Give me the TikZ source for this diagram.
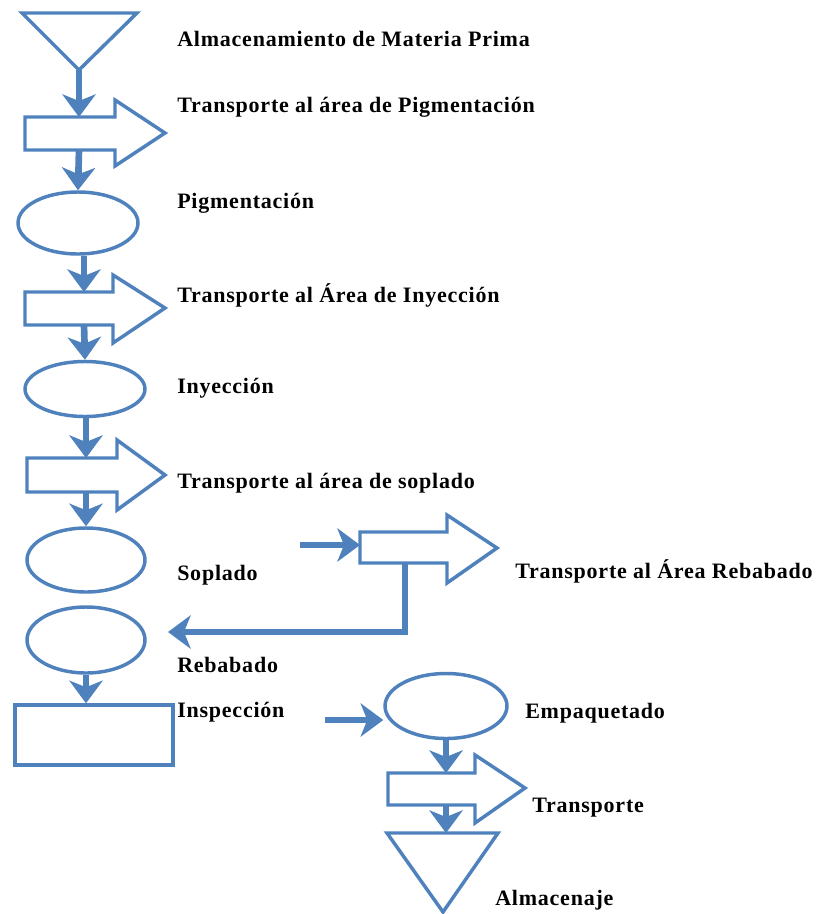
\documentclass[tikz,border=0pt]{standalone}
\usepackage{fontspec}
\setmainfont{Liberation Serif}[LetterSpace=3.5]
\usepackage{tikz}
\usetikzlibrary{shapes.geometric,arrows.meta}
\definecolor{azul}{HTML}{4F81BD}
\tikzstyle{contorno} = [draw=azul, line width=2.6pt, inner sep=0pt]
\tikzstyle{flecha} = [draw=azul, line width=5pt, ->]
\tikzstyle{rotulo} = [anchor=base west, inner sep=0pt, font=\fontsize{16.5}{19}\selectfont\bfseries]

\begin{document}
\begin{tikzpicture}[x=0.75pt,y=-0.75pt,>={Stealth[length=17pt,width=25pt,inset=5pt]}]
      \useasboundingbox (0,0) rectangle (827,914);

      % almacenamiento y transportes de la columna izquierda
      \draw[contorno] (22,13) -- (137,13) -- (79,70) coordinate (alm) -- cycle;
      \draw[contorno] (25,117) -- (115,117) -- (115,100) -- (165,133) -- (115,166) -- (115,150) -- (25,150) -- cycle;
      \coordinate (tp1n) at (79,117);
      \coordinate (tp1s) at (79,150);
      \node[contorno, ellipse, minimum width=90pt, minimum height=46.5pt] (pigm) at (78,223) {};
      \draw[contorno] (25,292) -- (113,292) -- (113,275) -- (165,308) -- (113,343) -- (113,325) -- (25,325) -- cycle;
      \coordinate (tp2n) at (84,292);
      \coordinate (tp2s) at (84,325);
      \node[contorno, ellipse, minimum width=90pt, minimum height=41.25pt] (inye) at (85,389) {};
      \draw[contorno] (27,458) -- (117,458) -- (117,440) -- (165,475) -- (117,510) -- (117,492) -- (27,492) -- cycle;
      \coordinate (tp3n) at (86,458);
      \coordinate (tp3s) at (86,492);
      \node[contorno, ellipse, minimum width=88.5pt, minimum height=48pt] (sopl) at (86,560) {};
      \node[contorno, ellipse, minimum width=88.5pt, minimum height=49.5pt] (reba) at (86,640) {};
      \node[contorno, rectangle, minimum width=118.5pt, minimum height=45pt] (insp) at (94,735) {};

      % transporte al rebabado
      \draw[contorno] (360,532) -- (447,532) -- (447,515) -- (497,548) -- (447,583) -- (447,563) -- (360,563) -- cycle;
      \coordinate (tp4w) at (360,545);
      \coordinate (tp4s) at (405,563);
      \coordinate (ent4) at (300,545);
      \coordinate (sal4) at (168,632);

      % empaquetado, transporte y almacenaje
      \node[contorno, ellipse, minimum width=91.5pt, minimum height=48.75pt] (empq) at (446,706) {};
      \coordinate (ent5) at (325,720);
      \draw[contorno] (388,773) -- (475,773) -- (475,755) -- (525,788) -- (475,823) -- (475,805) -- (388,805) -- cycle;
      \coordinate (tp5n) at (446,773);
      \coordinate (tp5s) at (446,805);
      \draw[contorno] (387,833) -- (498,833) -- (443,912) -- cycle;
      \coordinate (almf) at (446,833);

      % flechas
      \draw[flecha] (alm) -- (tp1n);
      \draw[flecha] (tp1s) -- (pigm.north);
      \draw[flecha] (pigm.south -| tp2n) -- (tp2n);
      \draw[flecha] (tp2s) -- (inye.north);
      \draw[flecha] (inye.south -| tp3n) -- (tp3n);
      \draw[flecha] (tp3s) -- (sopl.north);
      \draw[flecha] (reba.south) -- (reba.south |- insp.north);
      \draw[flecha] (ent4) -- (tp4w);
      \draw[flecha] (tp4s) |- (sal4);
      \draw[flecha] (ent5) -- (ent5 -| empq.west);
      \draw[flecha] (empq.south) -- (tp5n);
      \draw[flecha] (tp5s) -- (almf);

      % rotulos
      \node[rotulo] (r1) at (177,46) {Almacenamiento de Materia Prima};
      \node[rotulo] (r2) at (177,112) {Transporte al área de Pigmentación};
      \node[rotulo] (r3) at (177,208) {Pigmentación};
      \node[rotulo] (r4) at (177,302) {Transporte al Área de Inyección};
      \node[rotulo] (r5) at (177,393) {Inyección};
      \node[rotulo] (r6) at (177,488) {Transporte al área de soplado};
      \node[rotulo] (r7) at (177,580) {Soplado};
      \node[rotulo] (r8) at (515,578) {Transporte al Área Rebabado};
      \node[rotulo] (r9) at (177,672) {Rebabado};
      \node[rotulo] (r10) at (177,717) {Inspección};
      \node[rotulo] (r11) at (525,718) {Empaquetado};
      \node[rotulo] (r12) at (532,812) {Transporte};
      \node[rotulo] (r13) at (495,905) {Almacenaje};
    \end{tikzpicture}
\end{document}
